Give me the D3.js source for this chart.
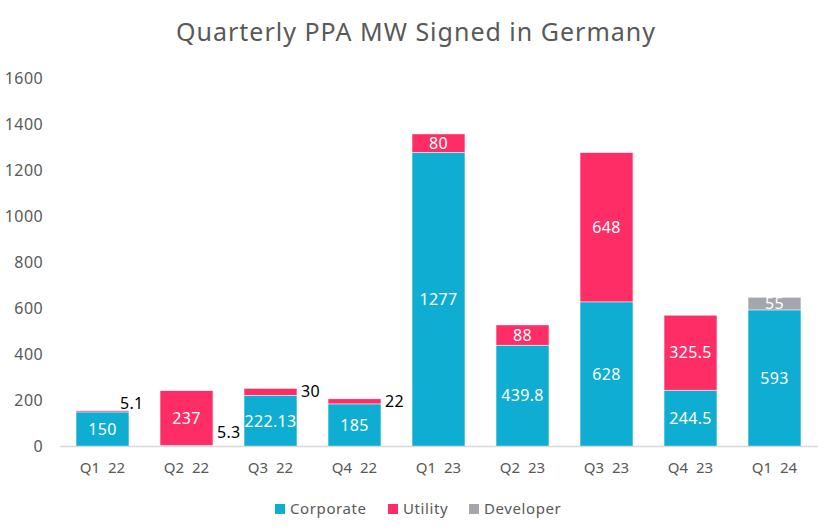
<!DOCTYPE html>
<html>
<head>
<meta charset="utf-8">
<script src="https://cdn.jsdelivr.net/npm/d3@7"></script>
<style>
  body { margin: 0; background: #fff; }
  svg text { font-family: "Noto Sans", "DejaVu Sans", sans-serif; }
</style>
</head>
<body>
<div id="chart"></div>
<script>
// Quarterly PPA MW, stacked by buyer type
const quarters = ['Q1 22', 'Q2 22', 'Q3 22', 'Q4 22', 'Q1 23', 'Q2 23', 'Q3 23', 'Q4 23', 'Q1 24'];
const corporate = [150, 5.3, 222.13, 185, 1277, 439.8, 628, 244.5, 593];
const utility = [5.1, 237, 30, 22, 80, 88, 648, 325.5, 0];
const developer = [0, 0, 0, 0, 0, 0, 0, 0, 55];
const seriesNames = ['Corporate', 'Utility', 'Developer'];
const yTicks = [0, 200, 400, 600, 800, 1000, 1200, 1400, 1600];

const width = 832, height = 532;
const colors = { Corporate: '#0eadd1', Utility: '#ff2d66', Developer: '#a5a5ad' };
const raw = { Corporate: corporate, Utility: utility, Developer: developer };

const rows = quarters.map((q, i) => ({
  quarter: q,
  idx: i,
  Corporate: corporate[i],
  Utility: utility[i],
  Developer: developer[i]
}));

const svg = d3.select('#chart').append('svg')
  .attr('width', width)
  .attr('height', height);

const x = d3.scaleBand()
  .domain(quarters)
  .range([60.5, 816.5])
  .paddingInner(0.37)
  .paddingOuter(0.185);

const y = d3.scaleLinear()
  .domain([0, 1600])
  .range([446.5, 78]);

// title
svg.append('text')
  .attr('x', 416)
  .attr('y', 41)
  .attr('text-anchor', 'middle')
  .attr('fill', '#595959')
  .attr('font-size', '25px')
  .attr('letter-spacing', '1px')
  .text('Quarterly PPA MW Signed in Germany');

// y tick labels (no gridlines)
svg.append('g')
  .selectAll('text')
  .data(yTicks)
  .join('text')
  .attr('x', 43)
  .attr('y', d => y(d))
  .attr('dy', '0.35em')
  .attr('text-anchor', 'end')
  .attr('fill', '#595959')
  .attr('font-size', '16px')
  .attr('letter-spacing', '0.4px')
  .text(d => d);

const layers = d3.stack().keys(seriesNames)(rows);

const layer = svg.append('g')
  .selectAll('g')
  .data(layers)
  .join('g')
  .attr('fill', d => colors[d.key]);

layer.selectAll('rect')
  .data(d => d.map(s => ({ key: d.key, s })))
  .join('rect')
  .attr('x', d => x(d.s.data.quarter))
  .attr('width', x.bandwidth())
  .attr('y', d => y(d.s[1]))
  .attr('height', d => y(d.s[0]) - y(d.s[1]))
  .attr('stroke', '#fff')
  .attr('stroke-width', 0.6)
  .attr('stroke-opacity', d => d.s[1] > d.s[0] ? 0.8 : 0);

// x axis line
svg.append('line')
  .attr('x1', 60).attr('x2', 818)
  .attr('y1', y(0)).attr('y2', y(0))
  .attr('stroke', '#d9d9d9')
  .attr('stroke-width', 1.3);

// x labels
svg.append('g')
  .selectAll('text')
  .data(quarters)
  .join('text')
  .attr('x', d => x(d) + x.bandwidth() / 2)
  .attr('y', 473)
  .attr('text-anchor', 'middle')
  .attr('fill', '#595959')
  .attr('font-size', '15px')
  .attr('xml:space', 'preserve')
  .text(d => d.replace(' ', '  '));

// data labels: inside if the segment is tall enough, else to the right
const labels = [];
layers.forEach(l => {
  l.forEach(s => {
    const v = raw[l.key][s.data.idx];
    if (v <= 0) return;
    const h = y(s[0]) - y(s[1]);
    labels.push({ v, s, inside: h > 10, key: l.key });
  });
});

svg.append('g')
  .selectAll('text')
  .data(labels)
  .join('text')
  .attr('x', d => d.inside
    ? x(d.s.data.quarter) + x.bandwidth() / 2
    : x(d.s.data.quarter) + x.bandwidth() + (d.key === 'Utility' && d.v < 10 ? -9 : 4))
  .attr('y', d => d.inside
    ? (y(d.s[0]) + y(d.s[1])) / 2
    : (d.key === 'Corporate' ? y(d.s[0]) - 14 : y(d.s[1]) + (d.v < 10 ? -7 : 3)))
  .attr('dy', '0.35em')
  .attr('text-anchor', d => d.inside ? 'middle' : 'start')
  .attr('fill', d => d.inside ? '#fff' : '#000')
  .attr('font-size', '16px')
  .attr('letter-spacing', '0.3px')
  .text(d => d.v);

// legend
const legendX = [275, 388, 469];
const legend = svg.append('g')
  .selectAll('g')
  .data(seriesNames)
  .join('g')
  .attr('transform', (d, i) => `translate(${legendX[i]},509)`);

legend.append('rect')
  .attr('x', 0).attr('y', -5)
  .attr('width', 10).attr('height', 10)
  .attr('fill', d => colors[d]);

legend.append('text')
  .attr('x', 15)
  .attr('dy', '0.35em')
  .attr('fill', '#595959')
  .attr('font-size', '15px')
  .attr('letter-spacing', '0.6px')
  .text(d => d);
</script>
</body>
</html>
